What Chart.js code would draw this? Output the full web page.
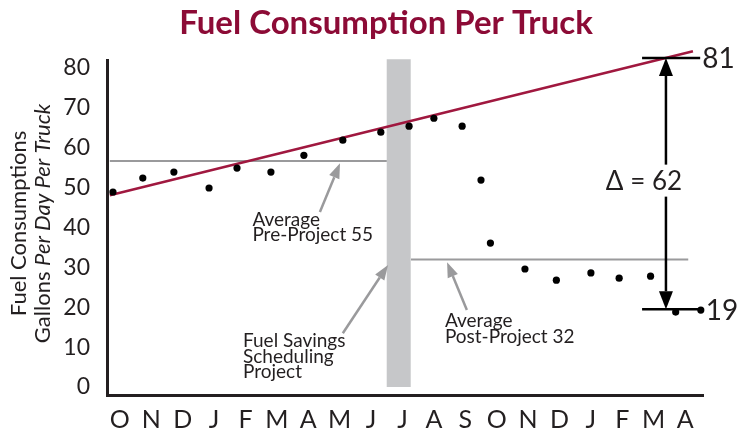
<!DOCTYPE html>
<html>
<head>
<meta charset="utf-8">
<script src="https://cdn.jsdelivr.net/npm/chart.js@4.4.1/dist/chart.umd.min.js"></script>
<style>
html,body{margin:0;padding:0;background:#fff;}
canvas{display:block;}
</style>
</head>
<body>
<canvas id="c" width="738" height="429"></canvas>
<script>
// ---- data ----
const months = ['O','N','D','J','F','M','A','M','J','J','A','S','O','N','D','J','F','M','A'];
const yTicks = [0,10,20,30,40,50,60,70,80];
const obsX = [-0.22,0.73,1.72,2.84,3.73,4.81,5.86,7.10,8.31,9.21,10.0,10.9,11.5,11.8,12.9,13.9,15.0,15.9,16.9,17.7,18.5];
const obsY = [48.9,52.4,53.9,49.9,54.9,53.9,58.1,61.9,63.9,65.4,67.4,65.4,51.9,36.1,29.6,26.8,28.6,27.3,27.8,18.8,19.3];
const trendX = [-0.32, 18.25];
const trendY = [48.1, 84.2];
const preAvgX = [-0.32, 8.5];
const preAvgY = [56.7, 56.7];
const postAvgX = [9.27, 18.1];
const postAvgY = [32.0, 32.0];
const projectX = [8.88, 8.88];
const projectY = [0, 82.2];
const deltaX = 17.39;
const deltaTop = 82.5;
const deltaBottom = 19.5;
const deltaTickX = [16.63, 18.48];
const deltaText = '\u0394 = 62';
const topLabel = '81';
const bottomLabel = '19';
// annotation arrows: [tailX, tailY, headX, headY]
const preArrow = [6.37, 43.9, 7.01, 56.1];
const projArrow = [7.10, 13.5, 8.54, 30.6];
const postArrow = [11.05, 19.3, 10.42, 31.3];
// annotation text blocks: [x, y(top line), lines]
const preText = [4.22, 44.3, ['Average', 'Pre-Project 55']];
const projText = [3.92, 13.9, ['Fuel Savings', 'Scheduling', 'Project']];
const postText = [10.35, 18.9, ['Average', 'Post-Project 32']];

const FONT = 'Lato, "Noto Sans", sans-serif';
const INK = '#231f20';

const pts = (xs, ys) => xs.map((x, i) => ({x, y: ys[i]}));

function arrow(ctx, x1, y1, x2, y2, color, lw, hl, hw) {
  const a = Math.atan2(y2 - y1, x2 - x1);
  const bx = x2 - hl * Math.cos(a), by = y2 - hl * Math.sin(a);
  ctx.save();
  ctx.strokeStyle = color; ctx.fillStyle = color; ctx.lineWidth = lw;
  ctx.beginPath(); ctx.moveTo(x1, y1); ctx.lineTo(bx, by); ctx.stroke();
  ctx.beginPath();
  ctx.moveTo(x2, y2);
  ctx.lineTo(bx + hw/2 * Math.sin(a), by - hw/2 * Math.cos(a));
  ctx.lineTo(bx - hw/2 * Math.sin(a), by + hw/2 * Math.cos(a));
  ctx.closePath(); ctx.fill();
  ctx.restore();
}

const annot = {
  id: 'annot',
  afterDatasetsDraw(chart) {
    const ctx = chart.ctx, xs = chart.scales.x, ys = chart.scales.y;
    const px = v => xs.getPixelForValue(v), py = v => ys.getPixelForValue(v);
    const gray = '#9a9a9c';
    [preArrow, projArrow, postArrow].forEach(a => arrow(ctx, px(a[0]), py(a[1]), px(a[2]), py(a[3]), gray, 2.5, 15, 11));

    ctx.save();
    ctx.fillStyle = INK;
    ctx.font = '19px ' + FONT;
    ctx.textBaseline = 'top';
    ctx.textAlign = 'left';
    [preText, projText, postText].forEach(t => {
      t[2].forEach((line, i) => ctx.fillText(line, px(t[0]), py(t[1]) + i * 15.5));
    });
    ctx.restore();

    // delta arrow
    const dx = px(deltaX), yt = py(deltaTop), yb = py(deltaBottom);
    ctx.save();
    ctx.strokeStyle = '#000'; ctx.fillStyle = '#000'; ctx.lineWidth = 2.5;
    ctx.beginPath();
    ctx.moveTo(px(deltaTickX[0]), yt); ctx.lineTo(px(deltaTickX[1]), yt);
    ctx.moveTo(px(deltaTickX[0]), yb); ctx.lineTo(px(deltaTickX[1]), yb);
    ctx.stroke();
    const mid = (yt + yb) / 2 - 2;
    arrow(ctx, dx, mid - 17, dx, yt, '#000', 2.5, 18, 14);
    arrow(ctx, dx, mid + 15, dx, yb, '#000', 2.5, 18, 14);
    ctx.font = '26px ' + FONT;
    ctx.textBaseline = 'middle';
    ctx.textAlign = 'center';
    ctx.fillStyle = INK;
    ctx.fillText(deltaText, dx - 22, mid);
    ctx.font = '28px ' + FONT;
    ctx.textAlign = 'left';
    ctx.fillText(topLabel, px(deltaTickX[1]) + 2, yt + 1);
    ctx.fillText(bottomLabel, px(obsX[obsX.length - 1]) + 5, yb + 2);
    ctx.restore();
  },
  afterDraw(chart) {
    const ctx = chart.ctx;
    ctx.save();
    // title
    ctx.fillStyle = '#8c0b36';
    ctx.font = 'bold 33px ' + FONT;
    ctx.textAlign = 'center';
    ctx.textBaseline = 'middle';
    ctx.fillText('Fuel Consumption Per Truck', 386, 23);
    // y axis title
    ctx.fillStyle = INK;
    const cy = (chart.chartArea.top + chart.scales.y.getPixelForValue(0)) / 2;
    ctx.translate(19, cy);
    ctx.rotate(-Math.PI / 2);
    ctx.font = '22px ' + FONT;
    ctx.textAlign = 'center';
    ctx.fillText('Fuel Consumptions', 0, 0);
    const p1 = 'Gallons ', p2 = 'Per Day Per Truck';
    ctx.font = '22px ' + FONT;
    const w1 = ctx.measureText(p1).width;
    ctx.font = 'italic 22px ' + FONT;
    const w2 = ctx.measureText(p2).width;
    ctx.textAlign = 'left';
    ctx.font = '22px ' + FONT;
    ctx.fillText(p1, -(w1 + w2) / 2, 24);
    ctx.font = 'italic 22px ' + FONT;
    ctx.fillText(p2, -(w1 + w2) / 2 + w1, 24);
    ctx.restore();
  }
};

new Chart(document.getElementById('c'), {
  type: 'line',
  data: {
    datasets: [
      { data: pts(obsX, obsY), showLine: false, pointRadius: 3.6, pointBackgroundColor: '#000', pointBorderWidth: 0, order: 0, clip: false },
      { data: pts(trendX, trendY), borderColor: '#a0183f', borderWidth: 2.5, pointRadius: 0, order: 1, clip: false },
      { data: pts(preAvgX, preAvgY), borderColor: '#9a9a9c', borderWidth: 2, pointRadius: 0, order: 2, clip: false },
      { data: pts(postAvgX, postAvgY), borderColor: '#9a9a9c', borderWidth: 2, pointRadius: 0, order: 2, clip: false },
      { data: pts(projectX, projectY), borderColor: '#c6c7c9', borderWidth: 24, borderCapStyle: 'butt', pointRadius: 0, order: 3, clip: false }
    ]
  },
  options: {
    responsive: false,
    animation: false,
    layout: { padding: { top: 60, right: 35, left: 0, bottom: 0 } },
    plugins: { legend: { display: false }, tooltip: { enabled: false }, title: { display: false } },
    scales: {
      x: {
        type: 'linear', min: -0.41, max: 18.57,
        grid: { display: false },
        border: { display: true, color: INK, width: 3 },
        afterBuildTicks: s => { s.ticks = months.map((m, i) => ({ value: i })); },
        afterFit: s => { s.height = 34; },
        ticks: { autoSkip: false, maxRotation: 0, padding: 2, color: INK, font: { family: FONT, size: 25 }, callback: v => months[v] }
      },
      y: {
        type: 'linear', min: -2, max: 82,
        grid: { display: false },
        border: { display: true, color: INK, width: 3 },
        afterBuildTicks: s => { s.ticks = yTicks.map(v => ({ value: v })); },
        afterFit: s => { s.width = 107; },
        ticks: { padding: 9, color: INK, font: { family: FONT, size: 23 } }
      }
    }
  },
  plugins: [annot]
});
</script>
</body>
</html>
